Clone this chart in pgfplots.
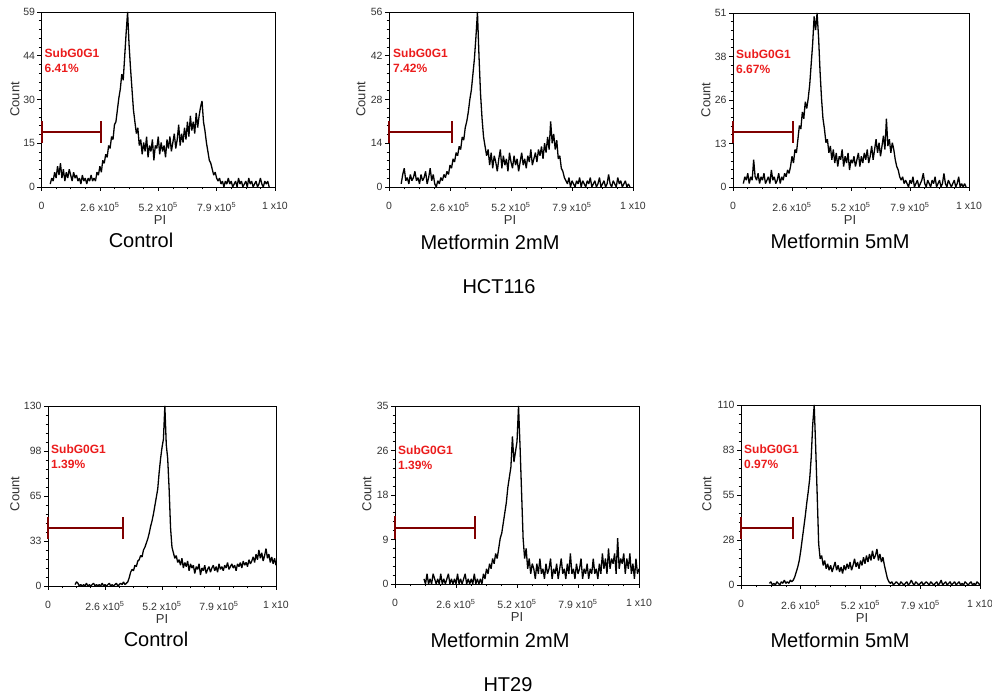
\documentclass[border=0pt]{standalone}
\usepackage{fontspec}
\setmainfont{Liberation Sans}
\usepackage{pgfplots}
\pgfplotsset{compat=1.18}
\definecolor{gatecol}{RGB}{128,0,0}
\definecolor{gtxt}{RGB}{235,28,28}

% x is in channel bins of 6553.6 PI units (160 bins = 1048576)
\pgfplotsset{
  flow/.style={
    scale only axis, clip=false, anchor=south west,
    xmin=0, xmax=160, ymin=0,
    axis line style={line width=0.9pt},
    xtick={0,40,80,120,160},
    xticklabels={0,{2.6 x10\textsuperscript{5}},{5.2 x10\textsuperscript{5}},{7.9 x10\textsuperscript{5}},{1 x10}},
    minor x tick num=3, minor y tick num=4,
    tick align=outside, xtick pos=bottom, ytick pos=left,
    major tick length=4pt, minor tick length=2.5pt,
    every tick/.style={black, line width=0.6pt},
    tick label style={font=\fontsize{10.5}{12}\selectfont, text=black!80},
    xticklabel style={yshift=-8pt},
    yticklabel style={xshift=1pt},
    /pgf/number format/assume math mode=true,
  },
}
\tikzset{
  flowline/.style={black, line width=1.3pt, mark=none, line join=bevel},
  gateline/.style={gatecol, line width=2pt, mark=none},
  gtext/.style={anchor=north west, inner sep=0pt, text=gtxt, align=left,
    font=\bfseries\fontsize{12}{15}\selectfont},
  lab/.style={font=\fontsize{13}{15}\selectfont, text=black!80, inner sep=0pt},
  ttl/.style={font=\fontsize{20}{24}\selectfont, text=black, inner sep=0pt},
}

\begin{document}
\begin{tikzpicture}[x=1pt,y=1pt]
\path[use as bounding box] (0,0) rectangle (992,698);

% ---------- HCT116 Control ----------
\begin{axis}[flow, at={(41.5pt,511pt)}, width=233.5pt, height=175pt, ymax=59,
  ytick={0,14.75,29.5,44.25,59}, yticklabels={0,15,30,44,59}]
\addplot[flowline] coordinates {(6,1)(7,3)(8,2)(9,5)(10,3)(11,7)(12,4)(13,8)(14,3)(15,6)(16,2)(17,5)(18,3)(19,6)(20,4)(21,2)(22,5)(23,3)(24,4)(25,2)(26,3)(27,1)(28,4)(29,2)(30,3)(31,1)(32,3)(33,2)(34,4)(35,2)(36,3)(37,2)(38,5)(39,4)
(40,7)(41,5)(42,9)(43,8)(44,11)(45,10)(46,14)(47,13)(48,17)(49,16)(50,21)(51,22)(52,26)(53,30)(54,33)(55,38)
(56,36)(57,44)(58,52)(59,59)(60,48)(61,40)(62,33)(63,26)(64,22)(65,18)(66,20)(67,14)
(68,16)(69,11)(70,15)(71,12)(72,17)(73,10)(74,14)(75,12)(76,16)(77,9)(78,14)(79,13)(80,17)(81,11)(82,15)(83,12)(84,14)(85,10)(86,16)(87,13)(88,17)(89,12)(90,15)(91,18)(92,13)(93,16)(94,21)(95,14)(96,18)(97,15)(98,20)(99,16)
(100,22)(101,17)(102,24)(103,19)(104,22)(105,18)(106,25)(107,20)(108,24)(109,27)(110,29)
(111,22)(112,19)(113,15)(114,12)(115,9)(116,8)(117,6)(118,4)(119,5)(120,3)
(121,2)(122,3)(123,1)(124,2)(125,0)(126,2)(127,1)(128,3)(129,1)(130,2)(131,0)(132,1)(133,2)(134,0)(135,3)(136,1)(137,2)(138,0)(139,1)(140,2)(141,0)(142,3)(143,1)(144,2)(145,0)(146,1)(147,2)(148,0)(149,1)(150,3)(151,1)(152,0)(153,2)(154,1)(155,2)(156,0)};
\addplot[gateline] coordinates {(0,18.6) (40.6,18.6)};
\addplot[gateline] coordinates {(0,14.9) (0,22.3)};
\addplot[gateline] coordinates {(40.6,14.9) (40.6,22.3)};
\node[gtext] at ([xshift=3pt]rel axis cs:0,0.79) {SubG0G1\\6.41\%};
\end{axis}

% ---------- HCT116 Metformin 2mM ----------
\begin{axis}[flow, at={(389pt,511pt)}, width=244pt, height=175pt, ymax=56,
  ytick={0,14,28,42,56}, yticklabels={0,14,28,42,56}]
\addplot[flowline] coordinates {(8,1)(9,4)(10,6)(11,2)(12,3)(13,1)(14,4)(15,2)(16,3)(17,5)(18,2)(19,3)(20,1)(21,4)(22,2)(23,3)(24,5)(25,1)(26,3)(27,6)(28,2)(29,4)(30,1)(31,0)(32,2)(33,1)(34,3)(35,2)(36,4)(37,3)(38,5)(39,4)
(40,7)(41,6)(42,9)(43,8)(44,11)(45,10)(46,13)(47,12)(48,16)(49,15)(50,19)(51,21)(52,24)(53,28)(54,31)(55,36)(56,41)(57,48)(58,56)(59,42)(60,30)(61,22)(62,16)(63,13)(64,10)
(65,12)(66,7)(67,11)(68,6)(69,10)(70,8)(71,5)(72,9)(73,12)(74,6)(75,10)(76,7)(77,9)(78,5)(79,11)(80,8)(81,6)(82,10)(83,7)(84,9)(85,5)(86,8)(87,11)(88,7)(89,9)(90,6)(91,10)(92,8)(93,12)(94,7)(95,9)(96,11)(97,8)(98,12)(99,10)
(100,13)(101,9)(102,14)(103,11)(104,16)(105,12)(106,21)(107,14)(108,17)(109,12)(110,15)(111,9)(112,10)(113,6)(114,5)(115,3)(116,2)
(117,1)(118,3)(119,0)(120,2)(121,1)(122,0)(123,2)(124,1)(125,3)(126,0)(127,2)(128,1)(129,0)(130,2)(131,1)(132,3)(133,0)(134,1)(135,2)(136,0)(137,1)(138,3)(139,0)(140,1)(141,2)(142,0)(143,1)(144,4)(145,1)(146,0)(147,2)(148,1)(149,0)(150,3)(151,1)(152,2)(153,0)(154,1)(155,2)(156,0)(157,1)(158,0)};
\addplot[gateline] coordinates {(0,17.7) (41.0,17.7)};
\addplot[gateline] coordinates {(0,14.2) (0,21.2)};
\addplot[gateline] coordinates {(41.0,14.2) (41.0,21.2)};
\node[gtext] at ([xshift=4pt]rel axis cs:0,0.79) {SubG0G1\\7.42\%};
\end{axis}

% ---------- HCT116 Metformin 5mM ----------
\begin{axis}[flow, at={(733pt,511pt)}, width=236pt, height=174pt, ymax=51,
  ytick={0,12.75,25.5,38.25,51}, yticklabels={0,13,26,38,51}]
\addplot[flowline] coordinates {(7,1)(8,3)(9,2)(10,4)(11,1)(12,3)(13,2)(14,8)(15,3)(16,2)(17,4)(18,1)(19,3)(20,2)(21,4)(22,1)(23,2)(24,3)(25,1)(26,5)(27,2)(28,3)(29,1)(30,2)(31,4)(32,1)(33,3)(34,2)(35,4)(36,3)(37,5)(38,4)(39,6)
(40,9)(41,7)(42,11)(43,10)(44,14)(45,18)(46,17)(47,22)(48,20)(49,25)(50,23)(51,26)(52,30)(53,36)(54,42)(55,50)(56,46)(57,51)(58,44)(59,34)(60,26)(61,20)(62,17)(63,13)(64,14)
(65,10)(66,12)(67,8)(68,11)(69,7)(70,10)(71,6)(72,9)(73,8)(74,11)(75,6)(76,9)(77,7)(78,10)(79,5)(80,8)(81,7)(82,9)(83,6)(84,8)(85,10)(86,6)(87,9)(88,7)(89,10)(90,8)(91,11)(92,7)(93,9)(94,12)(95,8)
(96,11)(97,14)(98,10)(99,13)(100,9)(101,12)(102,15)(103,11)(104,20)(105,12)(106,14)(107,10)(108,13)(109,11)(110,8)(111,6)(112,5)(113,3)(114,2)(115,3)(116,1)(117,2)
(118,1)(119,0)(120,2)(121,1)(122,3)(123,0)(124,1)(125,2)(126,0)(127,1)(128,2)(129,4)(130,1)(131,0)(132,2)(133,1)(134,0)(135,2)(136,1)(137,3)(138,0)(139,1)(140,2)(141,0)(142,1)(143,4)(144,1)(145,0)(146,2)(147,1)(148,0)(149,1)(150,2)(151,0)(152,1)(153,3)(154,0)(155,1)(156,0)(157,1)(158,0)};
\addplot[gateline] coordinates {(0,16.2) (40.9,16.2)};
\addplot[gateline] coordinates {(0,13.0) (0,19.4)};
\addplot[gateline] coordinates {(40.9,13.0) (40.9,19.4)};
\node[gtext] at ([xshift=3pt]rel axis cs:0,0.79) {SubG0G1\\6.67\%};
\end{axis}

% ---------- HT29 Control ----------
\begin{axis}[flow, at={(48pt,112pt)}, width=228pt, height=180pt, ymax=130,
  ytick={0,32.5,65,97.5,130}, yticklabels={0,33,65,98,130}]
\addplot[flowline] coordinates {(19,1)(20,3)(21,2)(22,0)(23,1)(24,0)(25,1)(26,0)(27,2)(28,0)(29,1)(30,0)(31,1)(32,2)(33,0)(34,1)(35,0)(36,1)(37,0)(38,2)(39,0)(40,1)(41,0)(42,1)(43,2)(44,0)(45,1)(46,0)(47,1)(48,2)(49,0)(50,1)(51,2)(52,1)(53,3)(54,1)(55,2)
(56,3)(57,6)(58,10)(59,12)(60,11)(61,15)(62,14)(63,18)(64,19)(65,22)(66,21)(67,26)(68,28)(69,31)(70,34)(71,38)(72,43)(73,47)(74,52)(75,58)(76,64)(77,70)(78,82)(79,92)(80,100)(81,106)(82,130)(83,102)(84,92)(85,70)(86,42)(87,28)(88,24)(89,20)(90,22)(91,17)(92,19)
(93,15)(94,20)(95,13)(96,17)(97,14)(98,18)(99,11)(100,16)(101,13)(102,15)(103,9)(104,14)(105,12)(106,16)(107,8)(108,13)(109,11)(110,15)(111,9)(112,12)(113,14)(114,10)(115,13)(116,15)(117,11)(118,14)(119,10)(120,16)(121,12)(122,14)(123,11)(124,15)(125,13)(126,17)(127,12)(128,14)(129,16)(130,13)(131,15)(132,11)(133,16)(134,14)(135,17)(136,13)(137,18)(138,15)(139,17)(140,14)(141,19)(142,16)(143,18)(144,21)
(145,17)(146,23)(147,19)(148,26)(149,20)(150,24)(151,18)(152,22)(153,27)(154,20)(155,23)(156,17)(157,21)(158,16)(159,20)(160,15)};
\addplot[gateline] coordinates {(0,41.7) (52.8,41.7)};
\addplot[gateline] coordinates {(0,33.8) (0,49.6)};
\addplot[gateline] coordinates {(52.8,33.8) (52.8,49.6)};
\node[gtext] at ([xshift=3pt]rel axis cs:0,0.783) {SubG0G1\\1.39\%};
\end{axis}

% ---------- HT29 Metformin 2mM ----------
\begin{axis}[flow, at={(395pt,114pt)}, width=244pt, height=178pt, ymax=35,
  ytick={0,8.75,17.5,26.25,35}, yticklabels={0,9,18,26,35}]
\addplot[flowline] coordinates {(19,1)(20,0)(21,2)(22,0)(23,1)(24,0)(25,2)(26,1)(27,0)(28,1)(29,0)(30,2)(31,0)(32,1)(33,0)(34,1)(35,2)(36,0)(37,1)(38,0)(39,1)(40,0)(41,2)(42,0)(43,1)(44,0)(45,1)(46,2)(47,0)(48,1)(49,0)(50,1)(51,0)(52,2)(53,0)(54,1)(55,0)(56,1)(57,0)
(58,2)(59,1)(60,3)(61,2)(62,4)(63,3)(64,5)(65,4)(66,6)(67,5)(68,7)(69,9)(70,10)(71,12)(72,14)(73,16)(74,19)(75,21)(76,23)(77,29)(78,24)(79,26)(80,28)(81,35)(82,27)(83,18)(84,9)(85,5)(86,7)
(87,3)(88,5)(89,2)(90,4)(91,3)(92,1)(93,4)(94,2)(95,5)(96,2)(97,3)(98,1)(99,4)(100,2)(101,3)(102,5)(103,1)(104,3)(105,2)(106,4)(107,1)(108,3)(109,5)(110,2)(111,3)(112,1)(113,4)(114,2)(115,6)(116,2)(117,3)(118,1)(119,4)(120,2)(121,3)(122,5)(123,1)(124,3)(125,2)(126,4)(127,1)(128,3)(129,2)(130,5)(131,2)(132,3)(133,1)(134,4)
(135,2)(136,6)(137,3)(138,5)(139,2)(140,7)(141,3)(142,5)(143,4)(144,6)(145,2)(146,9)(147,3)(148,5)(149,4)(150,6)(151,2)(152,5)(153,3)(154,6)(155,2)(156,4)(157,1)(158,5)(159,2)(160,3)};
\addplot[gateline] coordinates {(0,11.1) (52.5,11.1)};
\addplot[gateline] coordinates {(0,8.9) (0,13.3)};
\addplot[gateline] coordinates {(52.5,8.9) (52.5,13.3)};
\node[gtext] at ([xshift=3pt]rel axis cs:0,0.78) {SubG0G1\\1.39\%};
\end{axis}

% ---------- HT29 Metformin 5mM ----------
\begin{axis}[flow, at={(741pt,113pt)}, width=239pt, height=180pt, ymax=110,
  ytick={0,27.5,55,82.5,110}, yticklabels={0,28,55,83,110}]
\addplot[flowline] coordinates {(19,1)(20,2)(21,0)(22,1)(23,0)(24,2)(25,1)(26,0)(27,2)(28,1)(29,3)(30,1)(31,2)(32,1)(33,3)(34,2)
(35,3)(36,5)(37,8)(38,11)(39,15)(40,21)(41,28)(42,35)(43,42)(44,50)(45,57)(46,65)(47,78)(48,98)(49,110)(50,84)(51,55)(52,25)(53,16)(54,18)
(55,12)(56,15)(57,10)(58,13)(59,9)(60,12)(61,8)(62,11)(63,14)(64,9)(65,12)(66,8)(67,11)(68,7)(69,12)(70,9)(71,13)(72,10)(73,14)(74,9)(75,12)(76,16)(77,11)(78,14)(79,10)(80,15)(81,12)(82,17)(83,13)
(84,18)(85,14)(86,19)(87,15)(88,21)(89,16)(90,18)(91,22)(92,15)(93,19)(94,14)(95,17)(96,12)(97,8)(98,4)(99,2)
(100,1)(101,2)(102,0)(103,1)(104,2)(105,1)(106,0)(107,2)(108,1)(109,0)(110,1)(111,2)(112,0)(113,1)(114,3)(115,1)(116,0)(117,2)(118,1)(119,0)(120,1)(121,2)(122,0)(123,1)(124,2)(125,1)(126,0)(127,2)(128,1)(129,0)(130,1)(131,2)(132,0)(133,1)(134,3)(135,0)(136,1)(137,2)(138,0)(139,1)(140,2)(141,0)(142,1)(143,2)(144,0)(145,1)(146,2)(147,0)(148,1)(149,0)(150,2)(151,1)(152,0)(153,1)(154,2)(155,0)(156,1)(157,0)(158,2)(159,1)(160,0)};
\addplot[gateline] coordinates {(0,34.7) (34.6,34.7)};
\addplot[gateline] coordinates {(0,28.0) (0,41.4)};
\addplot[gateline] coordinates {(34.6,28.0) (34.6,41.4)};
\node[gtext] at ([xshift=3pt]rel axis cs:0,0.778) {SubG0G1\\0.97\%};
\end{axis}

% ---------- axis labels and titles ----------
\node[lab, rotate=90] at (15,598.5) {Count};
\node[lab, rotate=90] at (361,598.5) {Count};
\node[lab, rotate=90] at (706,598) {Count};
\node[lab, rotate=90] at (15,204) {Count};
\node[lab, rotate=90] at (367,204) {Count};
\node[lab, rotate=90] at (707,204) {Count};

\node[lab] at (160,478) {PI};
\node[lab] at (510,478) {PI};
\node[lab] at (850,478) {PI};
\node[lab] at (162,79) {PI};
\node[lab] at (517,81) {PI};
\node[lab] at (862,80) {PI};

\node[ttl] at (141,458) {Control};
\node[ttl] at (490,456) {Metformin 2mM};
\node[ttl] at (840,457) {Metformin 5mM};
\node[ttl] at (156,59) {Control};
\node[ttl] at (500,58) {Metformin 2mM};
\node[ttl] at (840,58) {Metformin 5mM};

\node[ttl] at (499,411) {HCT116};
\node[ttl] at (508,13) {HT29};
\end{tikzpicture}
\end{document}
